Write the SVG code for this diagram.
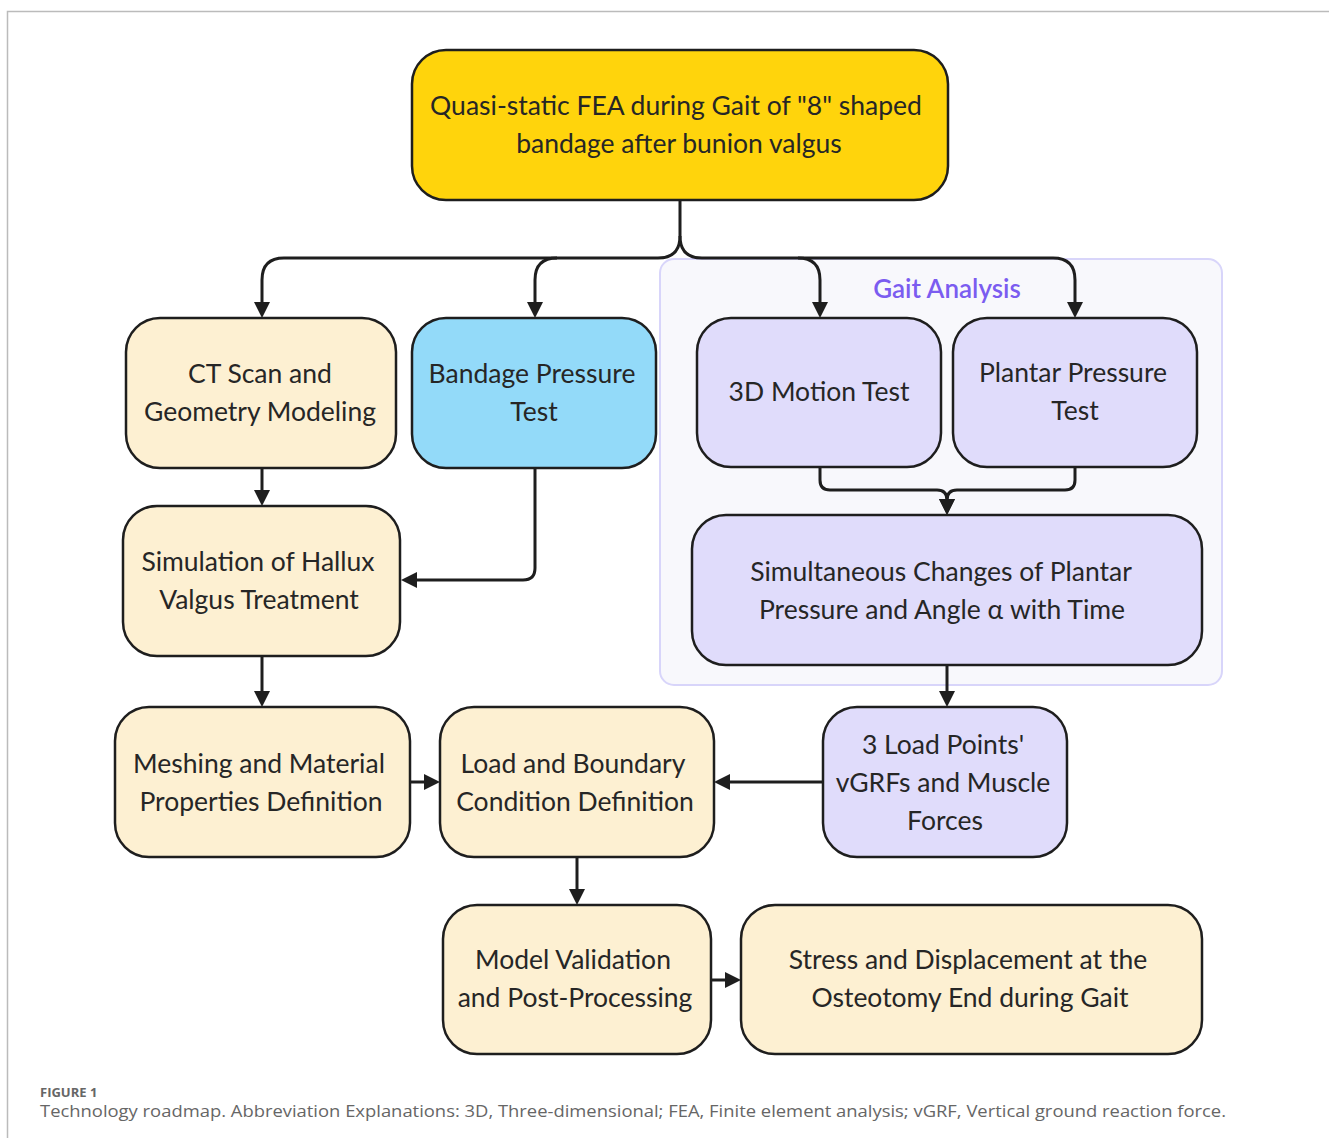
<svg xmlns="http://www.w3.org/2000/svg" width="1329" height="1138" viewBox="0 0 1329 1138">
<style>
.node rect{stroke:#1e1e1e;stroke-width:2.5}
.cream{fill:#FDF0D2}
.gold{fill:#FFD40C}
.blue{fill:#93DAF9}
.lav{fill:#E0DCFB}
.t{font-family:Lato,"Noto Sans","Liberation Sans",sans-serif;font-size:26.5px;fill:#262626;text-anchor:middle}
.conn path{fill:none;stroke:#1e1e1e;stroke-width:3}
.cap{font-family:"Open Sans","Liberation Sans",sans-serif;fill:#666}
</style>
<defs>
<marker id="ah" markerUnits="userSpaceOnUse" markerWidth="16" markerHeight="16" viewBox="0 0 16 16" refX="6" refY="8" orient="auto">
<path d="M0,0 L16,8 L0,16 z" fill="#1e1e1e"/>
</marker>
</defs>
<rect width="1329" height="1138" fill="#fff"/>
<path d="M7.5,1138 V11.5 H1329" fill="none" stroke="#bbb" stroke-width="1.5"/>

<g id="gait-analysis">
<rect x="660" y="259" width="562" height="426" rx="14" fill="#F8F8FC" stroke="#D8D5FA" stroke-width="2"/>
<text x="947" y="298" font-family="Lato,'Noto Sans',sans-serif" font-size="26" font-weight="600" fill="#7B5CF0" text-anchor="middle">Gait Analysis</text>
</g>

<g class="conn" id="connectors">
<path d="M680,200 V236 Q680,258 658,258 H284 Q262,258 262,280 V308" marker-end="url(#ah)"/>
<path d="M557,258 Q535,258 535,280 V308" marker-end="url(#ah)"/>
<path d="M680,236 Q680,258 702,258 H798 Q820,258 820,280 V308" marker-end="url(#ah)"/>
<path d="M798,258 H1053 Q1075,258 1075,280 V308" marker-end="url(#ah)"/>
<path d="M262,468 V496" marker-end="url(#ah)"/>
<path d="M535,468 V568 Q535,580 523,580 H411" marker-end="url(#ah)"/>
<path d="M262,656 V697" marker-end="url(#ah)"/>
<path d="M820,467 V480 Q820,490 830,490 H937 Q947,490 947,500 V505" marker-end="url(#ah)"/>
<path d="M1075,467 V480 Q1075,490 1065,490 H957 Q947,490 947,500 V505" marker-end="url(#ah)"/>
<path d="M947,665 V697" marker-end="url(#ah)"/>
<path d="M410,782 H430" marker-end="url(#ah)"/>
<path d="M823,782 H724" marker-end="url(#ah)"/>
<path d="M577,857 V895" marker-end="url(#ah)"/>
<path d="M711,980 H731" marker-end="url(#ah)"/>
</g>

<g class="node" id="n-top">
<rect class="gold" x="412" y="50" width="536" height="150" rx="34"/>
<text class="t" x="676" y="115">Quasi-static FEA during Gait of "8" shaped</text>
<text class="t" x="679" y="153">bandage after bunion valgus</text>
</g>
<g class="node" id="n-ct">
<rect class="cream" x="126" y="318" width="270" height="150" rx="34"/>
<text class="t" x="260" y="383">CT Scan and</text>
<text class="t" x="260" y="421">Geometry Modeling</text>
</g>
<g class="node" id="n-bandage">
<rect class="blue" x="412" y="318" width="244" height="150" rx="34"/>
<text class="t" x="532" y="383">Bandage Pressure</text>
<text class="t" x="534" y="421">Test</text>
</g>
<g class="node" id="n-3d">
<rect class="lav" x="697" y="318" width="244" height="149" rx="34"/>
<text class="t" x="819" y="401">3D Motion Test</text>
</g>
<g class="node" id="n-plantar">
<rect class="lav" x="953" y="318" width="244" height="149" rx="34"/>
<text class="t" x="1073" y="382">Plantar Pressure</text>
<text class="t" x="1075" y="420">Test</text>
</g>
<g class="node" id="n-simult">
<rect class="lav" x="692" y="515" width="510" height="150" rx="34"/>
<text class="t" x="941" y="581">Simultaneous Changes of Plantar</text>
<text class="t" x="942" y="619">Pressure and Angle α with Time</text>
</g>
<g class="node" id="n-sim">
<rect class="cream" x="123" y="506" width="277" height="150" rx="34"/>
<text class="t" x="258" y="571">Simulation of Hallux</text>
<text class="t" x="259" y="609">Valgus Treatment</text>
</g>
<g class="node" id="n-mesh">
<rect class="cream" x="115" y="707" width="295" height="150" rx="34"/>
<text class="t" x="259" y="773">Meshing and Material</text>
<text class="t" x="261" y="811">Properties Definition</text>
</g>
<g class="node" id="n-load">
<rect class="cream" x="440" y="707" width="274" height="150" rx="34"/>
<text class="t" x="573" y="773">Load and Boundary</text>
<text class="t" x="575" y="811">Condition Definition</text>
</g>
<g class="node" id="n-3lp">
<rect class="lav" x="823" y="707" width="244" height="150" rx="34"/>
<text class="t" x="943" y="754">3 Load Points'</text>
<text class="t" x="943" y="792">vGRFs and Muscle</text>
<text class="t" x="945" y="830">Forces</text>
</g>
<g class="node" id="n-model">
<rect class="cream" x="443" y="905" width="268" height="149" rx="34"/>
<text class="t" x="573" y="969">Model Validation</text>
<text class="t" x="575" y="1007">and Post-Processing</text>
</g>
<g class="node" id="n-stress">
<rect class="cream" x="741" y="905" width="461" height="149" rx="34"/>
<text class="t" x="968" y="969">Stress and Displacement at the</text>
<text class="t" x="970" y="1007">Osteotomy End during Gait</text>
</g>

<g id="caption">
<text class="cap" x="40" y="1097" font-size="13" font-weight="700">FIGURE 1</text>
<text class="cap" x="40" y="1117" font-size="17" textLength="1186" lengthAdjust="spacingAndGlyphs">Technology roadmap. Abbreviation Explanations: 3D, Three-dimensional; FEA, Finite element analysis; vGRF, Vertical ground reaction force.</text>
</g>
</svg>
